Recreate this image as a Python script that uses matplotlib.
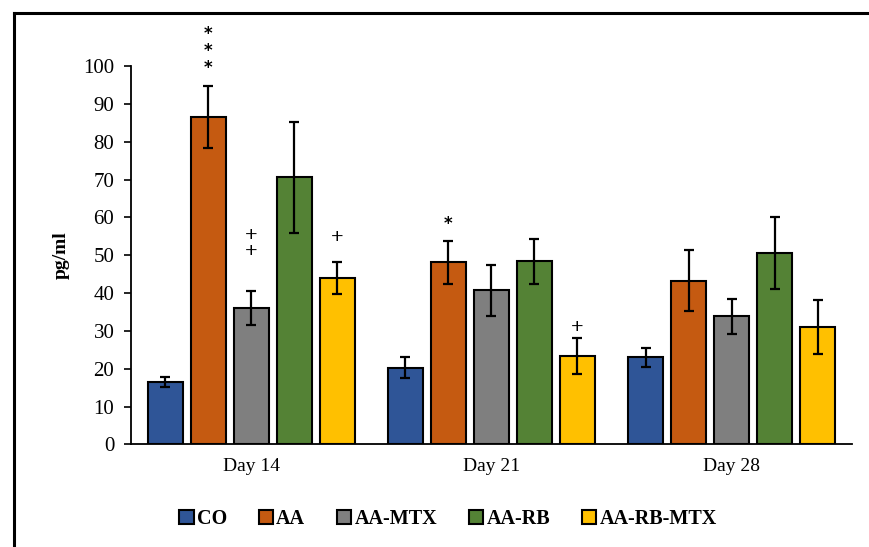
import matplotlib
matplotlib.use("Agg")
import matplotlib.pyplot as plt
from matplotlib.lines import Line2D
from matplotlib.patches import Patch
import numpy as np

plt.rcParams['font.family'] = ['Liberation Serif', 'DejaVu Serif']

days = ['Day 14', 'Day 21', 'Day 28']
groups = ['CO', 'AA', 'AA-MTX', 'AA-RB', 'AA-RB-MTX']
colors = ['#2F5597', '#C55A11', '#7F7F7F', '#548235', '#FFC000']

# mean values (pg/ml) per group, one entry per day
co = [16.6, 20.3, 23.1]
aa = [86.5, 48.1, 43.3]
aa_mtx = [36.1, 40.7, 33.9]
aa_rb = [70.6, 48.4, 50.6]
aa_rb_mtx = [43.9, 23.4, 31.0]

co_err = [1.3, 2.7, 2.5]
aa_err = [8.2, 5.6, 8.0]
aa_mtx_err = [4.5, 6.7, 4.6]
aa_rb_err = [14.6, 6.0, 9.6]
aa_rb_mtx_err = [4.2, 4.7, 7.1]

means = [co, aa, aa_mtx, aa_rb, aa_rb_mtx]
errs = [co_err, aa_err, aa_mtx_err, aa_rb_err, aa_rb_mtx_err]

# significance marks: (day index, group index, symbol, y centre)
marks = [
    (0, 1, '*\n*\n*', 104.0),
    (0, 2, '+\n+', 53.0),
    (0, 4, '+', 54.6),
    (1, 1, '*', 58.3),
    (1, 4, '+', 30.8),
]

fig = plt.figure(figsize=(8.7, 5.47), dpi=100)
ax = fig.add_axes([0.1506, 0.1874, 0.8284, 0.6919])

x = np.arange(len(days))
pitch = 0.179
width = 0.146
for i, (vals, e) in enumerate(zip(means, errs)):
    pos = x + (i - 2) * pitch
    ax.bar(pos, vals, width, color=colors[i], edgecolor='black', linewidth=1.5,
           yerr=e, capsize=3.6, error_kw=dict(elinewidth=1.6, capthick=1.6, ecolor='black'),
           zorder=2)

for d, g, sym, yv in marks:
    xp = x[d] + (g - 2) * pitch
    if '*' in sym:
        ax.text(xp, yv, sym, ha='center', va='center', fontsize=12, fontweight='bold',
                clip_on=False, family='DejaVu Sans', linespacing=0.95)
    else:
        ax.text(xp, yv, sym, ha='center', va='center', fontsize=16, fontweight='bold',
                clip_on=False, linespacing=0.75)

ax.set_xlim(-0.5, 2.5)
ax.set_ylim(0, 100)
ax.set_yticks(np.arange(0, 101, 10))
ax.set_xticks(x)
ax.set_xticklabels(days)
ax.tick_params(axis='x', length=0, labelsize=14, pad=10)
ax.tick_params(axis='y', length=5, width=1.2, labelsize=15, direction='out', pad=7)
for side in ['top', 'right']:
    ax.spines[side].set_visible(False)
for side in ['left', 'bottom']:
    ax.spines[side].set_linewidth(1.3)
ax.set_ylabel('pg/ml', fontsize=14, fontweight='bold', labelpad=10)

handles = [Patch(facecolor=c, edgecolor='black', linewidth=1.5) for c in colors]
fig.legend(handles, groups, loc='center', bbox_to_anchor=(0.515, 0.051), ncol=5,
           frameon=False, prop=dict(weight='bold', size=14.5),
           handlelength=0.7, handleheight=0.7, handletextpad=0.15, columnspacing=1.6)

# outer frame
fig.add_artist(Line2D([14 / 870, 1.0], [1 - 13 / 547, 1 - 13 / 547], color='black', linewidth=2.2))
fig.add_artist(Line2D([14 / 870, 14 / 870], [0.0, 1 - 13 / 547], color='black', linewidth=2.2))

fig.savefig('out.png', dpi=100)
